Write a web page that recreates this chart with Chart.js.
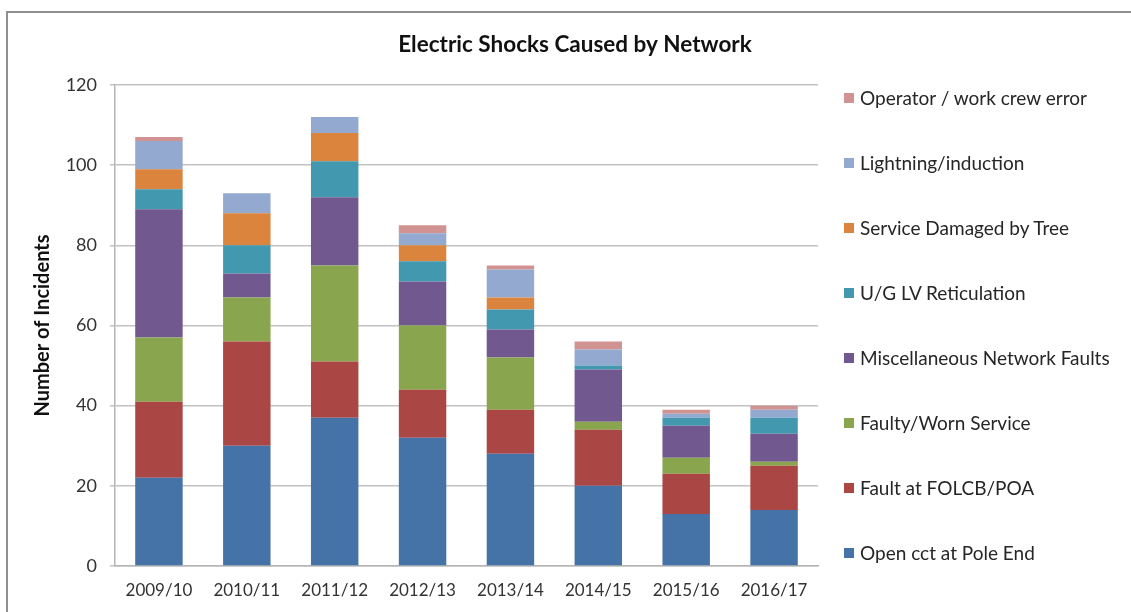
<!DOCTYPE html>
<html>
<head>
<meta charset="utf-8">
<script src="https://cdn.jsdelivr.net/npm/chart.js@4.4.1/dist/chart.umd.min.js"></script>
<style>
  body { margin: 0; background: #fff; overflow: hidden; }
  #frame { position: absolute; left: 6px; top: 11px; width: 1140px; height: 640px; border: 2px solid #8f8f8f; }
  #myChart { position: absolute; left: 0; top: 0; }
  #legend { position: absolute; left: 844px; top: 65px; font-family: Lato, sans-serif; font-size: 19px; color: #262626; }
  #legend .item { height: 65px; display: flex; align-items: center; white-space: nowrap; }
  #legend .box { width: 10px; height: 10px; margin-right: 6px; }
</style>
</head>
<body>
<div id="frame"></div>
<canvas id="myChart" width="1131" height="612"></canvas>
<div id="legend"></div>
<script>
const ctx = document.getElementById('myChart');

/*  dados  */
const anos = ['2009/10', '2010/11', '2011/12', '2012/13', '2013/14', '2014/15', '2015/16', '2016/17'];

const openCct    = [22, 30, 37, 32, 28, 20, 13, 14];
const faultFolcb = [19, 26, 14, 12, 11, 14, 10, 11];
const faultyWorn = [16, 11, 24, 16, 13, 2, 4, 1];
const miscFaults = [32, 6, 17, 11, 7, 13, 8, 7];
const ugLv       = [5, 7, 9, 5, 5, 1, 2, 4];
const treeDamage = [5, 8, 7, 4, 3, 0, 0, 0];
const lightning  = [7, 5, 4, 3, 7, 4, 1, 2];
const operator   = [1, 0, 0, 2, 1, 2, 1, 1];

const yTicks = [0, 20, 40, 60, 80, 100, 120];

const fonte = 'Lato, sans-serif';

let chart = new Chart(ctx, {
  type: 'bar',
  data: {
    labels: anos,
    datasets: [
      { label: 'Open cct at Pole End', data: openCct, backgroundColor: '#4572a7' },
      { label: 'Fault at FOLCB/POA', data: faultFolcb, backgroundColor: '#aa4643' },
      { label: 'Faulty/Worn Service', data: faultyWorn, backgroundColor: '#89a54e' },
      { label: 'Miscellaneous Network Faults', data: miscFaults, backgroundColor: '#71588f' },
      { label: 'U/G LV Reticulation', data: ugLv, backgroundColor: '#4198af' },
      { label: 'Service Damaged by Tree', data: treeDamage, backgroundColor: '#db843d' },
      { label: 'Lightning/induction', data: lightning, backgroundColor: '#93a9cf' },
      { label: 'Operator / work crew error', data: operator, backgroundColor: '#d19392' }
    ]
  },
  options: {
    responsive: false,
    animation: false,
    datasets: { bar: { categoryPercentage: 1, barPercentage: 0.54, borderWidth: 0 } },
    layout: { padding: { left: 19, right: 0, top: 0, bottom: 0 } },
    plugins: {
      legend: { display: false },
      tooltip: { enabled: false },
      title: {
        display: true,
        text: 'Electric Shocks Caused by Network',
        color: '#111',
        font: { family: fonte, size: 22.5, weight: 'bold' },
        padding: { top: 31.5, bottom: 26.5 }
      }
    },
    scales: {
      x: {
        stacked: true,
        grid: { display: false, drawTicks: false },
        border: { display: true, color: '#b5b5b5', width: 1.5 },
        ticks: { color: '#333', font: { family: fonte, size: 17 }, padding: 14 },
        afterFit: (s) => { s.height = 46; }
      },
      y: {
        stacked: true,
        min: 0,
        max: 120,
        afterBuildTicks: (s) => { s.ticks = yTicks.map(v => ({ value: v })); },
        grid: { color: '#c2c2c2', lineWidth: 1.5, tickLength: 5 },
        border: { display: true, color: '#b5b5b5', width: 1.5 },
        ticks: { color: '#333', font: { family: fonte, size: 18 }, padding: 13 },
        title: {
          display: true,
          text: 'Number of Incidents',
          color: '#111',
          font: { family: fonte, size: 20, weight: 'bold' },
          padding: { top: 12, bottom: 0 }
        },
        afterFit: (s) => { s.width = 96; }
      },
      espaco: {
        position: 'right',
        display: true,
        grid: { display: false },
        border: { display: false },
        ticks: { display: false },
        afterFit: (s) => { s.width = 313; }
      }
    }
  }
});

/*  legenda em html, de cima para baixo como no original  */
let legenda = document.getElementById('legend');
chart.data.datasets.slice().reverse().forEach(ds => {
  let item = document.createElement('div');
  item.className = 'item';
  let box = document.createElement('span');
  box.className = 'box';
  box.style.background = ds.backgroundColor;
  let txt = document.createElement('span');
  txt.textContent = ds.label;
  item.appendChild(box);
  item.appendChild(txt);
  legenda.appendChild(item);
});
</script>
</body>
</html>
